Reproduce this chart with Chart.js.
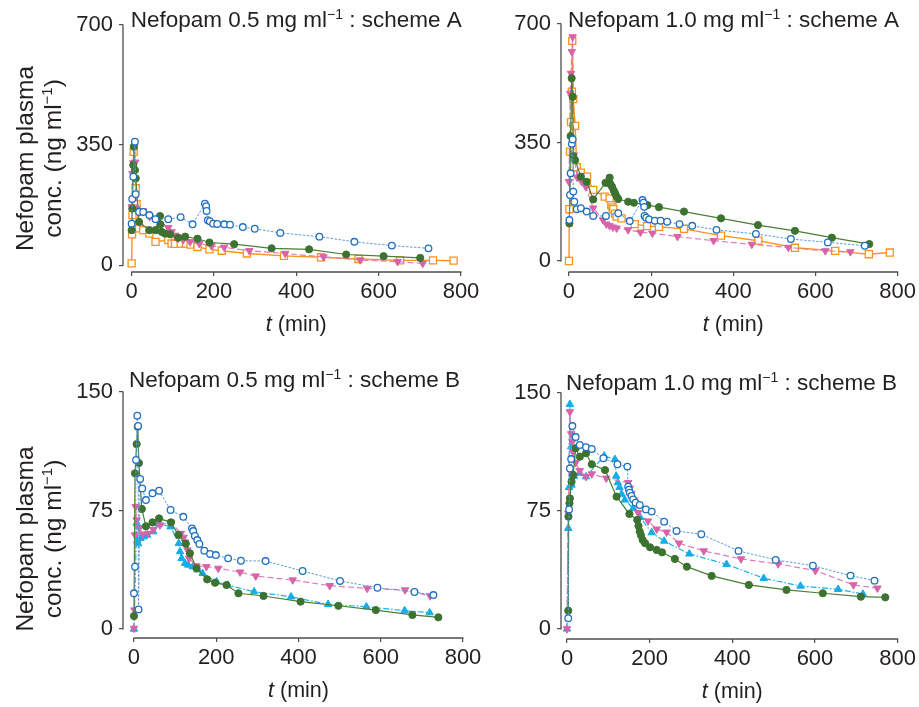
<!DOCTYPE html>
<html>
<head>
<meta charset="utf-8">
<script src="https://cdn.jsdelivr.net/npm/chart.js@4.4.0/dist/chart.umd.min.js"></script>
<style>
  body { margin: 0; background: #fff; }
  canvas { position: absolute; }
  #c1 { left: 0; top: 0; }
  #c2 { left: 470px; top: 0; }
  #c3 { left: 0; top: 350px; }
  #c4 { left: 470px; top: 350px; }
</style>
</head>
<body>
<canvas id="c1" width="500" height="350"></canvas>
<canvas id="c2" width="449" height="350"></canvas>
<canvas id="c3" width="500" height="357"></canvas>
<canvas id="c4" width="449" height="357"></canvas>
<script>
// tick labels
var xTicks = [0, 200, 400, 600, 800];
var yTicksA = [0, 350, 700];
var yTicksB = [0, 75, 150];

// [t (min), conc (ng/ml)]
// scheme A, 0.5 mg/ml
var a05Blue = [[0,121],[1.5,193],[4,258],[8,360],[10,207],[18,155],[28,155],[43,146],[58,134],[89,134],[119,140],[148,119],[178,179],[181,172],[182,158],[185,131],[190,128],[198,121],[208,120],[225,119],[239,118],[270,111],[299,106],[361,94],[456,83],[541,68],[632,57],[721,49]];
var a05Green = [[0,102],[1.5,165],[4,292],[5.5,345],[8,277],[10,253],[18,126],[43,102],[58,102],[69,143],[70,119],[73,97],[81,92],[93,90],[113,80],[130,83],[160,77],[189,66],[249,61],[340,49],[431,46],[521,31],[612,26],[701,21]];
var a05Pink = [[0,170],[2,267],[4,298],[6,345],[9,300],[12,165],[28,158],[44,141],[65,131],[89,109],[97,97],[105,87],[109,82],[113,78],[125,74],[142,68],[164,63],[194,56],[225,52],[286,42],[373,34],[466,24],[555,15],[646,10],[707,5]];
var a05Orange = [[0,5],[1,90],[2,146],[5,330],[10,224],[12,178],[18,107],[28,102],[43,92],[58,68],[89,73],[97,63],[105,62],[119,63],[132,63],[143,60],[160,53],[189,46],[219,42],[280,34],[370,27],[460,23],[551,18],[652,14],[732,14],[782,13]];

// scheme A, 1.0 mg/ml
var a10Blue = [[1,121],[2.5,195],[4,259],[7,346],[9,359],[10.5,205],[13,175],[19,153],[29,156],[43,146],[59,133],[90,133],[120,141],[148,118],[179,180],[181,172],[183,160],[184,133],[188,128],[195,123],[209,119],[223,119],[239,116],[269,109],[300,104],[359,92],[455,80],[540,65],[630,55],[720,45]];
var a10Green = [[1,111],[4,369],[6.5,540],[9,485],[10.5,310],[15,298],[29,249],[43,234],[59,182],[89,231],[99,246],[101,227],[105,219],[109,208],[112,200],[116,190],[120,183],[144,175],[158,172],[191,165],[219,159],[280,146],[370,126],[460,106],[550,89],[640,69],[731,50]];
var a10Pink = [[0,234],[3,495],[5,554],[7,618],[9,662],[12,313],[20,247],[31,234],[41,219],[59,156],[83,121],[91,109],[99,104],[107,100],[116,97],[144,92],[174,85],[203,82],[264,72],[352,60],[445,49],[534,40],[624,30],[685,27]];
var a10Orange = [[0,0],[1,153],[2.5,323],[5,410],[7,500],[8,650],[10.5,478],[15,399],[19,277],[29,261],[44,249],[59,210],[87,190],[99,185],[103,165],[106,158],[108,153],[112,140],[116,131],[128,126],[160,109],[190,103],[219,101],[280,95],[370,75],[461,60],[550,39],[648,30],[730,20],[781,25]];

// scheme B, 0.5 mg/ml
var b05Blue = [[0,22.6],[2.5,39.4],[5,107],[8,135],[10,128.5],[11,12.4],[15,95],[20,89],[29,81.6],[45,85.9],[61,87.5],[89,75.3],[120,71],[141,63.7],[144,62],[148,58.9],[154,56.3],[159,53.8],[171,49.6],[185,47.5],[199,46.8],[229,44.7],[260,43.2],[320,43],[410,36.7],[501,30.4],[592,26.1],[682,23.4],[728,21.5]];
var b05Green = [[0,8.2],[2.5,98.5],[6.5,117],[9,128],[12,105],[19,76],[29,65],[45,67.5],[61,70],[90,67.5],[108,59.5],[126,54],[136,47.9],[152,38.4],[178,31.4],[197,29.3],[225,27.8],[254,22.6],[315,20.9],[405,17.3],[497,14.7],[588,12],[677,8.9],[740,7.4]];
var b05Pink = [[0,0.4],[1,12],[2.5,59.5],[4,77.4],[6.5,69],[13,64],[21,60],[35,60.5],[47,63],[63,65.8],[90,67.5],[114,60.5],[121,58],[124,55],[130,50],[134,44.7],[152,39.9],[176,39.4],[205,38.4],[258,36],[296,33.5],[386,31],[476,27.4],[567,25.7],[659,24.7],[720,20.9]];
var b05Cyan = [[0,0],[6.5,67],[8,56],[10,54],[16,57.4],[24,58.4],[32,59.5],[47,61.6],[61,66.5],[89,64.7],[109,54.2],[112,49],[116,44.7],[124,41.6],[132,40.5],[143,39.4],[155,37.5],[167,35.2],[201,29.9],[228,27.8],[292,23.6],[382,20.4],[472,15.6],[565,14.1],[658,11.6],[719,10.3]];

// scheme B, 1.0 mg/ml
var b10Blue = [[3,6.8],[5,76],[7,102],[10,108],[13,129],[21,122],[31,117],[46,115.5],[60,114.4],[88,108.5],[122,104.7],[146,103.2],[148,90.4],[150,88.5],[152,86.6],[156,84.5],[160,82.4],[166,80.3],[176,78.8],[191,76],[205,74.6],[235,68.2],[265,62.3],[325,60.2],[415,49.6],[505,43.9],[595,40.2],[686,33.9],[744,30.7]];
var b10Green = [[3,11.6],[3.5,71.4],[6,79.9],[7,83],[11,93.6],[15,97.9],[21,114.9],[31,109.5],[46,111.7],[60,104.7],[92,101],[120,84.1],[151,73.1],[170,69.3],[173,65.5],[176,61.9],[179,59.5],[183,56.6],[189,54.5],[201,51.9],[217,50.2],[230,48.7],[261,44.5],[290,39.6],[350,33.7],[440,28],[531,24.8],[619,22.7],[711,20.5],[770,20.1]];
var b10Pink = [[0,0],[3,73.5],[7,138],[10,124],[13,119],[15,112.7],[21,105.7],[31,100.6],[46,96.8],[60,98.5],[95,95.8],[148,93],[152,89.4],[156,86.2],[162,82],[172,73.9],[196,68.6],[217,63.4],[241,61.5],[271,54.5],[331,49.6],[421,44.5],[511,41.3],[601,37.1],[693,28],[751,25.9]];
var b10Cyan = [[0,0],[3,64],[5,90],[7,142.8],[10,115.9],[11,91.5],[17,97.2],[31,99],[46,96.8],[90,110],[116,107.8],[119,97.2],[123,93],[127,90],[132,85.8],[140,82],[160,76.7],[177,71],[205,61.2],[235,55.9],[296,47.7],[386,41.1],[476,32.2],[565,27.3],[656,25.2],[716,22.2]];

var FONT = "'Liberation Sans', Arial, Helvetica, sans-serif";
Chart.defaults.font.family = FONT;

var styles = {
  blue:   { borderColor: '#5a9cd8', borderWidth: 1, borderDash: [2.5, 1.5], pointStyle: 'circle', pointRadius: 3.3, pointBorderColor: '#1f70c2', pointBackgroundColor: '#ffffff', pointBorderWidth: 1.3 },
  green:  { borderColor: '#4a7f35', borderWidth: 1.2, borderDash: [], pointStyle: 'circle', pointRadius: 3.6, pointBorderColor: '#3d7230', pointBackgroundColor: '#3d7230', pointBorderWidth: 1 },
  pink:   { borderColor: '#e07cb7', borderWidth: 1.2, borderDash: [6, 3], pointStyle: 'triangle', pointRotation: 180, pointRadius: 4.3, pointBorderColor: '#d764a9', pointBackgroundColor: '#d764a9', pointBorderWidth: 1 },
  orange: { borderColor: '#f7941d', borderWidth: 1.4, borderDash: [], pointStyle: 'rect', pointRadius: 5, pointBorderColor: '#f7941d', pointBackgroundColor: '#ffffff', pointBorderWidth: 1.3 },
  cyan:   { borderColor: '#1ab2e8', borderWidth: 1.2, borderDash: [6, 2, 1.5, 2], pointStyle: 'triangle', pointRotation: 0, pointRadius: 4.3, pointBorderColor: '#14ade6', pointBackgroundColor: '#14ade6', pointBorderWidth: 1 }
};

function ds(data, key) {
  var s = styles[key];
  return Object.assign({
    data: data.map(function (p) { return { x: p[0], y: p[1] }; }),
    tension: 0, fill: false, clip: false
  }, s);
}

var panels = [
  { id: 'c1', dose: '0.5', scheme: 'A', yTicks: yTicksA, xMin: -21, yMin: -20,
    pad: { left: 63, right: 39, top: 25, bottom: 18 }, titleY: 27, titleDx: -1, yTitle: true, yTitleDy: 10,
    sets: [ds(a05Blue, 'blue'), ds(a05Green, 'green'), ds(a05Pink, 'pink'), ds(a05Orange, 'orange')] },
  { id: 'c2', dose: '1.0', scheme: 'A', yTicks: yTicksA, xMin: -19.4, yMin: -32.5,
    pad: { left: 31, right: 20, top: 24, bottom: 18 }, titleY: 27, titleDx: -1, yTitle: false,
    sets: [ds(a10Blue, 'blue'), ds(a10Green, 'green'), ds(a10Pink, 'pink'), ds(a10Orange, 'orange')] },
  { id: 'c3', dose: '0.5', scheme: 'B', yTicks: yTicksB, xMin: -26.7, yMin: -5.7,
    pad: { left: 63, right: 37, top: 42, bottom: 9 }, titleY: 37, titleDx: -5, yTitle: true, yTitleDy: 24,
    sets: [ds(b05Blue, 'blue'), ds(b05Green, 'green'), ds(b05Pink, 'pink'), ds(b05Cyan, 'cyan')] },
  { id: 'c4', dose: '1.0', scheme: 'B', yTicks: yTicksB, xMin: -14.5, yMin: -6.4,
    pad: { left: 31, right: 21, top: 43, bottom: 8 }, titleY: 40, titleDx: -1, yTitle: false,
    sets: [ds(b10Blue, 'blue'), ds(b10Green, 'green'), ds(b10Pink, 'pink'), ds(b10Cyan, 'cyan')] }
];

// text with a superscript part; parts = [[text, isSup, isItalic], ...]
function partFont(p, size) {
  return (p[2] ? 'italic ' : '') + (p[1] ? Math.round(size * 0.62) : size) + 'px ' + FONT;
}
function partsWidth(ctx, parts, size) {
  var w = 0;
  parts.forEach(function (p) {
    ctx.font = partFont(p, size);
    w += ctx.measureText(p[0]).width;
  });
  return w;
}
function drawParts(ctx, parts, x, y, size) {
  parts.forEach(function (p) {
    ctx.font = partFont(p, size);
    ctx.fillText(p[0], x, p[1] ? y - size * 0.36 : y);
    x += ctx.measureText(p[0]).width;
  });
}

var spines = {
  id: 'spines',
  beforeDatasetsDraw: function (chart) {
    var ctx = chart.ctx, a = chart.chartArea, xs = chart.scales.x, ys = chart.scales.y;
    var yt = chart.options.scales.y.max;
    ctx.save();
    ctx.strokeStyle = '#4d4d4d';
    ctx.lineWidth = 1.3;
    ctx.beginPath();
    ctx.moveTo(a.left, ys.getPixelForValue(0) + 0.5);
    ctx.lineTo(a.left, ys.getPixelForValue(yt) - 0.5);
    ctx.moveTo(xs.getPixelForValue(0) - 0.5, a.bottom);
    ctx.lineTo(xs.getPixelForValue(800) + 0.5, a.bottom);
    ctx.stroke();
    ctx.restore();
  }
};

var labels = {
  id: 'labels',
  afterDraw: function (chart) {
    var ctx = chart.ctx, a = chart.chartArea, xs = chart.scales.x;
    var p = chart.options.plugins.labels;
    ctx.save();
    ctx.fillStyle = '#231f20';
    ctx.textBaseline = 'alphabetic';
    ctx.textAlign = 'left';
    // panel title
    drawParts(ctx, [['Nefopam ' + p.dose + ' mg ml'], ['\u22121', true], [' : scheme ' + p.scheme]],
      xs.getPixelForValue(0) + p.titleDx, p.titleY, 22.5);
    // x axis title
    var xt = [['t', false, true], [' (min)']];
    var cx = (xs.getPixelForValue(0) + xs.getPixelForValue(800)) / 2;
    drawParts(ctx, xt, cx - partsWidth(ctx, xt, 21.5) / 2, a.bottom + 59, 21.5);
    // y axis title
    if (p.yTitle) {
      var cy = (a.top + a.bottom) / 2 + p.yTitleDy;
      var l1 = [['Nefopam plasma']];
      var l2 = [['conc. (ng ml'], ['\u22121', true], [')']];
      ctx.save();
      ctx.translate(33, cy);
      ctx.rotate(-Math.PI / 2);
      drawParts(ctx, l1, -partsWidth(ctx, l1, 24.5) / 2, 0, 24.5);
      ctx.restore();
      ctx.save();
      ctx.translate(61, cy);
      ctx.rotate(-Math.PI / 2);
      drawParts(ctx, l2, -partsWidth(ctx, l2, 24.5) / 2, 0, 24.5);
      ctx.restore();
    }
    ctx.restore();
  }
};

panels.forEach(function (pn) {
  var yMax = pn.yTicks[pn.yTicks.length - 1];
  new Chart(document.getElementById(pn.id), {
    type: 'line',
    data: { datasets: pn.sets },
    plugins: [spines, labels],
    options: {
      responsive: false,
      animation: false,
      devicePixelRatio: 1,
      layout: { padding: pn.pad },
      plugins: {
        legend: { display: false },
        tooltip: { enabled: false },
        labels: { dose: pn.dose, scheme: pn.scheme, titleY: pn.titleY, titleDx: pn.titleDx, yTitle: pn.yTitle, yTitleDy: pn.yTitleDy }
      },
      scales: {
        x: {
          type: 'linear', min: pn.xMin, max: 800,
          afterBuildTicks: function (s) { s.ticks = xTicks.map(function (v) { return { value: v }; }); },
          afterFit: function (s) { s.height = 60; },
          border: { display: false },
          grid: { drawOnChartArea: false, drawTicks: true, tickLength: 4, color: '#4d4d4d', lineWidth: 1.2 },
          ticks: { color: '#231f20', font: { size: 22 }, padding: 3, maxRotation: 0, autoSkip: false }
        },
        y: {
          type: 'linear', min: pn.yMin, max: yMax,
          afterBuildTicks: function (s) { s.ticks = pn.yTicks.map(function (v) { return { value: v }; }); },
          afterFit: function (s) { s.width = 60; },
          border: { display: false },
          grid: { drawOnChartArea: false, drawTicks: true, tickLength: 4, color: '#4d4d4d', lineWidth: 1.2 },
          ticks: { color: '#231f20', font: { size: 22 }, padding: 6, autoSkip: false }
        }
      }
    }
  });
});
</script>
</body>
</html>
